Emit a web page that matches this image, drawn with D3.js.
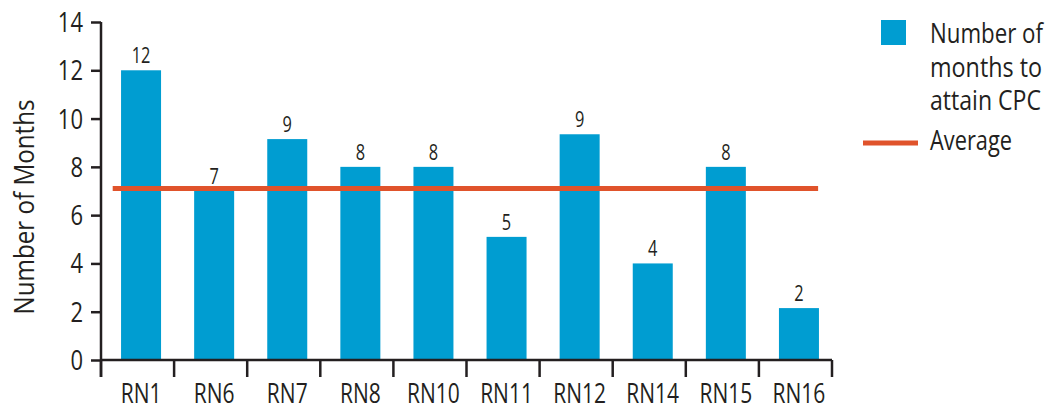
<!DOCTYPE html>
<html><head><meta charset="utf-8">
<script src="https://cdn.jsdelivr.net/npm/d3@7"></script>
<style>
body{margin:0;background:#fff;}
text{font-family:"Open Sans","Noto Sans",sans-serif;fill:#231f20;}
</style></head>
<body><svg id="c" width="1053" height="410"></svg>
<script>
const categories = ["RN1","RN6","RN7","RN8","RN10","RN11","RN12","RN14","RN15","RN16"];
const values = [12, 7, 9.15, 8, 8, 5.1, 9.35, 4, 8, 2.15];
const valueLabels = ["12","7","9","8","8","5","9","4","8","2"];
const averageValue = 7.1;
const yTicks = [0,2,4,6,8,10,12,14];
const legendBarLabel = ["Number of","months to","attain CPC"];
const legendLineLabel = "Average";
const yTitle = "Number of Months";

const svg = d3.select("#c");
const mLeft = 101, mRight = 832, mTop = 22, mBottom = 360;
const x = d3.scaleBand().domain(categories).range([mLeft, mRight]).paddingInner(0).paddingOuter(0);
const y = d3.scaleLinear().domain([0, 14]).range([mBottom, mTop]);
const barW = 40, barShift = 3.5;
const ink = "#231f20", blue = "#009dd1", orange = "#e0532b";
const cx = d => x(d) + x.bandwidth()/2 + barShift;

function ctext(g, px, py, s, size, str, anchor, rot) {
  return g.append("text")
    .attr("transform", `translate(${px},${py})` + (rot ? ` rotate(${rot})` : "") + ` scale(${s},1)`)
    .attr("font-size", size)
    .attr("text-anchor", anchor || "start")
    .text(str);
}
// text fitted to a target width by horizontal scaling
function fitText(g, px, py, size, str, width, family) {
  const t = g.append("text").attr("font-size", size).text(str);
  if (family) t.attr("font-family", family);
  const len = t.node().getComputedTextLength();
  t.attr("transform", `translate(${px},${py}) scale(${width/len},1)`);
  return t;
}

// bars
svg.selectAll("rect.bar").data(categories).join("rect")
  .attr("class","bar")
  .attr("x", d => cx(d) - barW/2)
  .attr("width", barW)
  .attr("y", (d,i) => y(values[i]))
  .attr("height", (d,i) => y(0) - y(values[i]))
  .attr("fill", blue);

// value labels
svg.selectAll("text.val").data(categories).join("text")
  .attr("class","val")
  .attr("transform", (d,i) => `translate(${cx(d)},${y(values[i]) - 7}) scale(0.78,1)`)
  .attr("text-anchor","middle")
  .attr("font-size", 21)
  .text((d,i) => valueLabels[i]);

// average line
svg.append("line")
  .attr("x1", x(categories[0]) + x.bandwidth()*0.16)
  .attr("x2", x(categories[categories.length-1]) + x.bandwidth()*0.81)
  .attr("y1", y(averageValue)).attr("y2", y(averageValue))
  .attr("stroke", orange).attr("stroke-width", 5);

// y axis
const yAxis = svg.append("g").attr("transform", `translate(${mLeft},0)`)
  .call(d3.axisLeft(y).tickValues(yTicks).tickSize(10).tickPadding(8));
yAxis.select(".domain").attr("d", `M0,${mTop}V${mBottom+17}`).attr("stroke", ink).attr("stroke-width", 2.5);
yAxis.selectAll(".tick line").attr("stroke", ink).attr("stroke-width", 2.5);
yAxis.selectAll(".tick text")
  .attr("font-size", 26.5).attr("font-family", null).attr("fill", ink)
  .attr("x", null).attr("dy", null)
  .attr("transform", "translate(-18,9.5) scale(0.83,1)");

// x axis
const xAxis = svg.append("g").attr("transform", `translate(0,${mBottom})`)
  .call(d3.axisBottom(x).tickSize(0).tickPadding(0));
xAxis.select(".domain").attr("d", `M${mLeft},0H${mRight}`).attr("stroke", ink).attr("stroke-width", 2.5);
xAxis.selectAll(".tick text")
  .attr("font-size", 28).attr("font-family", null).attr("fill", ink)
  .attr("y", null).attr("dy", null)
  .attr("transform", `translate(${barShift},43) scale(0.75,1)`);
const bounds = categories.map(d => x(d)).concat([x(categories[categories.length-1]) + x.bandwidth()]);
svg.selectAll("line.xt").data(bounds).join("line")
  .attr("class","xt")
  .attr("x1", d => d).attr("x2", d => d)
  .attr("y1", mBottom).attr("y2", mBottom + 17)
  .attr("stroke", ink).attr("stroke-width", 2.5);

// y title
ctext(svg, 34, (mTop+mBottom)/2 + 16, 0.88, 27.5, yTitle, "middle", -90);

// legend
const lg = svg.append("g");
lg.append("rect").attr("x", 881).attr("y", 20).attr("width", 25).attr("height", 25).attr("fill", blue);
const legendWidths = [113, 112, 111];
const legFont = "Lato, 'Open Sans', sans-serif";
legendBarLabel.forEach((t,i) => fitText(lg, 930, 43 + i*33.5, 27.5, t, legendWidths[i], legFont));
lg.append("line").attr("x1", 863).attr("x2", 918).attr("y1", 143).attr("y2", 143)
  .attr("stroke", orange).attr("stroke-width", 5);
fitText(lg, 930, 150, 27.5, legendLineLabel, 82, legFont);
</script></body></html>
